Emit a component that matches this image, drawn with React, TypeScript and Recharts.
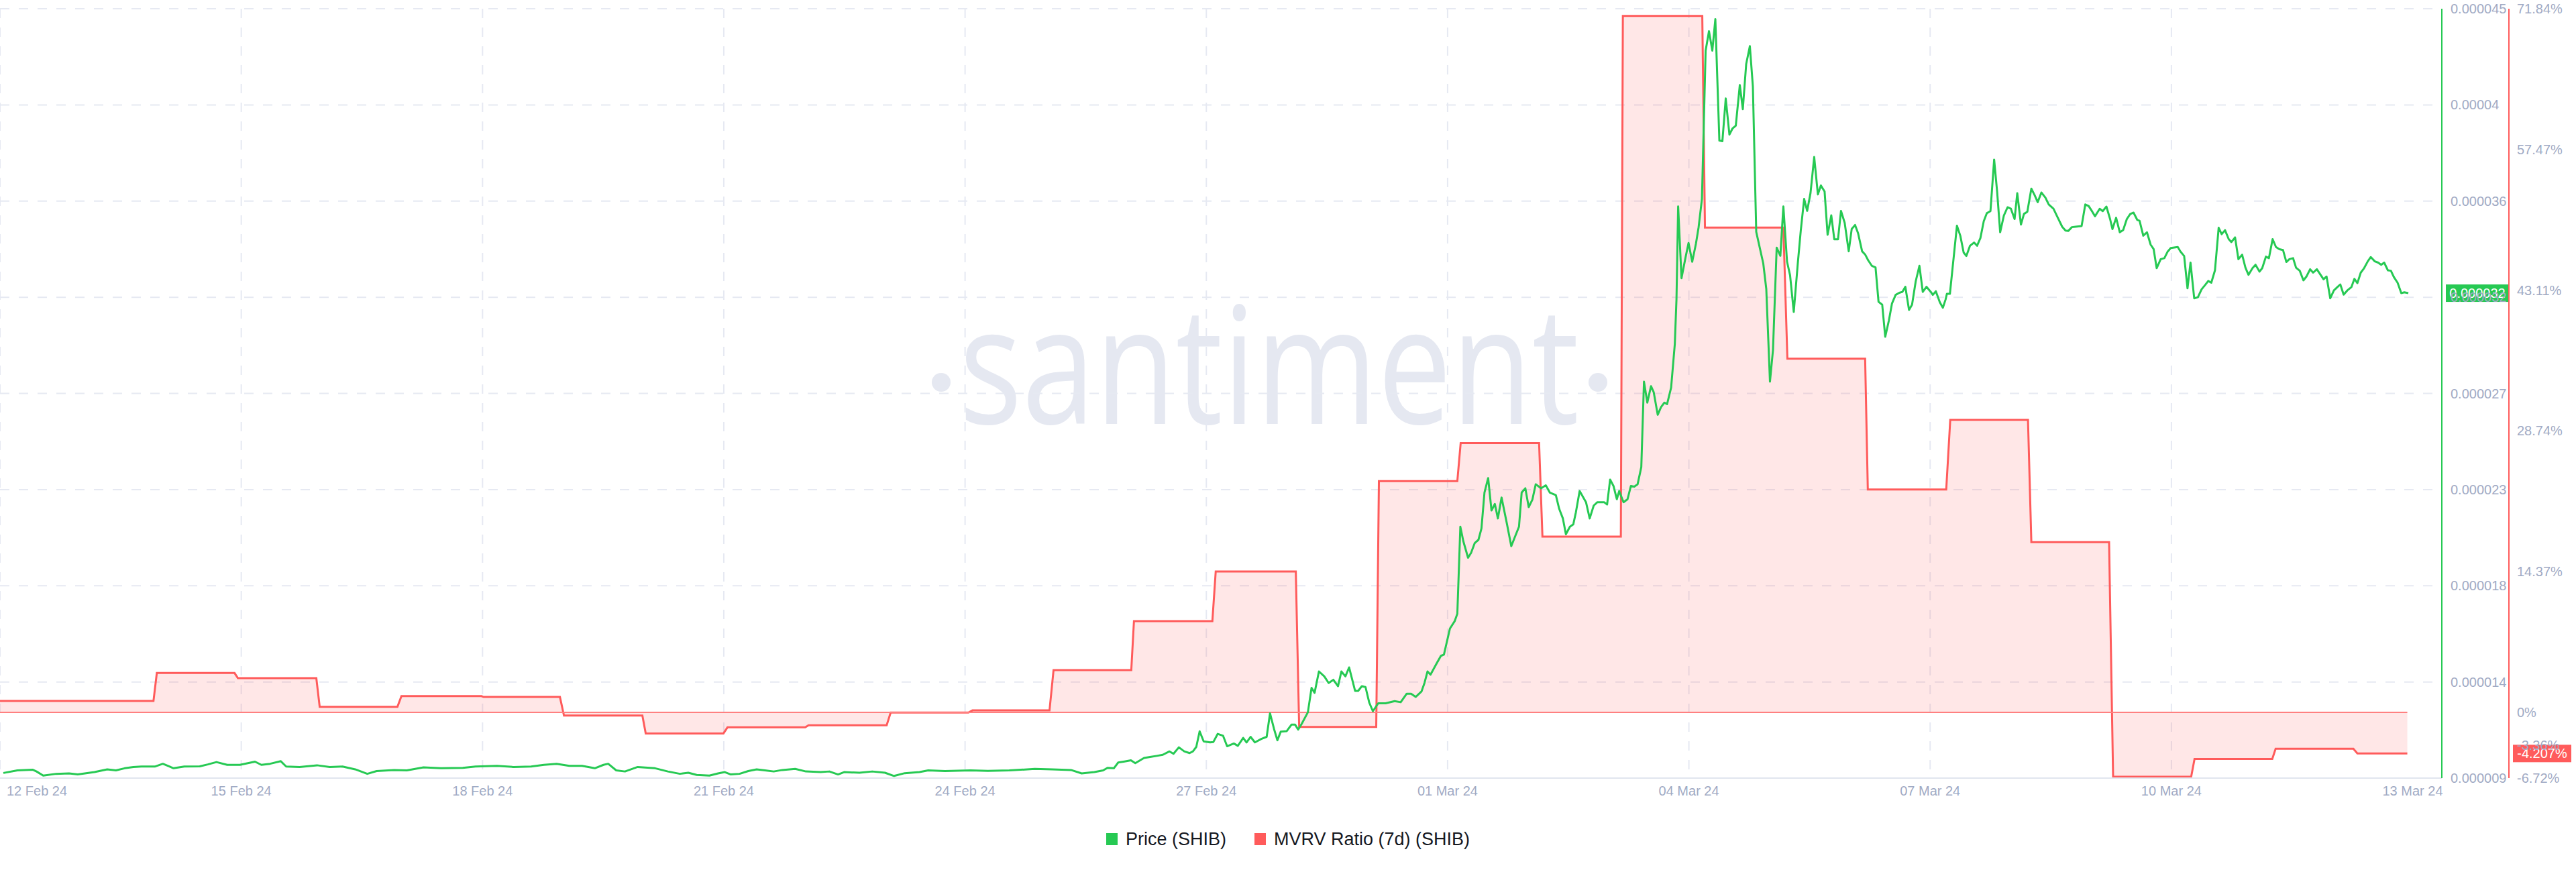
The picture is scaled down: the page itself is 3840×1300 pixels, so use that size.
import { ComposedChart, Area, Line, XAxis, YAxis, CartesianGrid, ReferenceLine, Legend } from 'recharts';

const GREEN = '#26c953';
const RED = '#ff5b5b';
const AXIS_TEXT = '#9faac4';
const GRID = '#e6e9f2';
const WATERMARK = '#e5e8f1';
const FONT = '"Liberation Sans", Arial, sans-serif';

// axis ids: recharts stacks right axes in id order, so price (y1) sits next to the plot
const PRICE_AXIS = 'y1';
const MVRV_AXIS = 'y2';

// x values are hours since 12 Feb 24 00:00
const DATE_TICKS = [0, 72, 144, 216, 288, 360, 432, 504, 576, 648, 720];
const DATE_LABELS = ['12 Feb 24', '15 Feb 24', '18 Feb 24', '21 Feb 24', '24 Feb 24', '27 Feb 24', '01 Mar 24', '04 Mar 24', '07 Mar 24', '10 Mar 24', '13 Mar 24'];
const GRID_HOURS = [0, 72, 144, 216, 288, 360, 432, 504, 576, 648];

// price in millionths of a dollar
const PRICE_TICKS = [9, 13.5, 18, 22.5, 27, 31.5, 36, 40.5, 45];
const PRICE_TICK_LABELS = ['0.000009', '0.000014', '0.000018', '0.000023', '0.000027', '0.000032', '0.000036', '0.00004', '0.000045'];

const MVRV_TICKS = [-6.72, -3.36, 0, 14.37, 28.74, 43.11, 57.47, 71.84];
const MVRV_TICK_LABELS = ['-6.72%', '-3.36%', '0%', '14.37%', '28.74%', '43.11%', '57.47%', '71.84%'];

// MVRV (7d) steps: each level holds from MVRV_FROM to MVRV_TO (hours)
const MVRV_FROM = [0, 46.8, 71.0, 95.4, 119.8, 144.3, 168.3, 192.7, 217.1, 241.3, 265.8, 290.2, 314.4, 338.4, 362.8, 387.7, 411.5, 435.9, 460.3, 484.3, 508.8, 533.4, 557.4, 582.0, 606.2, 630.6, 654.9, 679.1, 703.5];
const MVRV_TO = [45.8, 70.0, 94.4, 118.6, 143.7, 167.1, 191.7, 215.9, 240.3, 264.6, 289.0, 313.2, 337.6, 361.8, 386.7, 410.7, 434.9, 459.3, 483.7, 508.0, 532.2, 556.6, 580.8, 605.2, 629.4, 653.9, 678.1, 702.3, 718.4];
const MVRV_VALUES = [1.15, 4.01, 3.48, 0.56, 1.65, 1.56, -0.33, -2.16, -1.54, -1.32, -0.03, 0.19, 4.3, 9.31, 14.38, -1.5, 23.6, 27.5, 17.94, 71.1, 49.5, 36.1, 22.75, 29.86, 17.37, -6.59, -4.77, -3.73, -4.207];

// [hour, price]
const PRICE_POINTS: [number, number][] = [
  [1.0, 9.24], [5.2, 9.36], [9.8, 9.39], [10.9, 9.31], [12.9, 9.12], [16.8, 9.2], [20.6, 9.22], [23.2, 9.17], [28.2, 9.28], [32.0, 9.41],
  [34.6, 9.36], [37.2, 9.46], [39.8, 9.52], [42.2, 9.54], [46.2, 9.54], [48.6, 9.67], [51.8, 9.46], [55.0, 9.54], [59.6, 9.55], [62.0, 9.64],
  [64.6, 9.75], [67.8, 9.62], [71.6, 9.62], [76.1, 9.77], [78.0, 9.62], [80.6, 9.67], [83.8, 9.79], [85.4, 9.54], [89.4, 9.52], [94.6, 9.6],
  [98.4, 9.52], [102.2, 9.54], [106.0, 9.41], [109.6, 9.2], [112.4, 9.33], [117.6, 9.38], [121.4, 9.36], [126.4, 9.5], [131.6, 9.46], [138.1, 9.48],
  [141.9, 9.54], [148.3, 9.57], [153.3, 9.52], [158.5, 9.54], [162.3, 9.62], [166.1, 9.67], [169.9, 9.57], [173.7, 9.57], [177.5, 9.46], [180.1, 9.62],
  [181.5, 9.67], [183.9, 9.36], [186.5, 9.31], [190.3, 9.52], [195.5, 9.46], [199.3, 9.31],
  [202.9, 9.2], [205.4, 9.25], [207.9, 9.15], [211.7, 9.12], [214.3, 9.22], [216.3, 9.28], [218.1, 9.17], [220.7, 9.2], [223.3, 9.33], [225.8, 9.41],
  [228.3, 9.36], [230.9, 9.31], [233.5, 9.38], [237.3, 9.43], [240.5, 9.31], [244.9, 9.28], [247.5, 9.31], [250.1, 9.17], [251.9, 9.28], [256.5, 9.25],
  [260.3, 9.31], [264.1, 9.25], [266.8, 9.1], [270.0, 9.23], [274.4, 9.28], [277.0, 9.36], [282.0, 9.33], [289.6, 9.36], [294.8, 9.34], [301.2, 9.36],
  [308.8, 9.43], [314.0, 9.41], [319.6, 9.38], [322.8, 9.22], [326.6, 9.28], [329.2, 9.36], [330.5, 9.48], [332.4, 9.46], [333.7, 9.73], [335.6, 9.78],
  [337.5, 9.83], [338.8, 9.7], [341.4, 9.94], [343.2, 9.99], [345.2, 10.04], [347.0, 10.09], [349.0, 10.25], [350.2, 10.14], [351.8, 10.44], [353.4, 10.25],
  [355.0, 10.17], [356.0, 10.25], [357.0, 10.46], [358.0, 11.19], [359.2, 10.72], [361.1, 10.67], [362.1, 10.69], [363.4, 11.07], [365.0, 10.98], [366.2, 10.49],
  [368.2, 10.62], [369.4, 10.51], [371.0, 10.88], [372.0, 10.67], [373.2, 10.93], [374.5, 10.67], [376.4, 10.83], [378.0, 10.93], [379.0, 12.03], [380.2, 11.3],
  [381.2, 10.77], [382.2, 11.17], [384.0, 11.2], [385.4, 11.5], [386.5, 11.5], [387.4, 11.27], [388.5, 11.55], [390.3, 12.08], [391.4, 13.22], [392.3, 12.99],
  [393.6, 13.99], [395.2, 13.76], [396.5, 13.45], [397.9, 13.6], [399.3, 13.3], [400.3, 13.99], [401.5, 13.76], [402.6, 14.18], [404.4, 13.08], [405.3, 13.08],
  [406.4, 13.3], [407.5, 13.26], [408.6, 12.54], [409.7, 12.13], [411.3, 12.5], [413.5, 12.5], [416.2, 12.6], [418.0, 12.55], [419.8, 12.95], [421.1, 12.95],
  [422.5, 12.8], [424.2, 13.05], [425.1, 13.45], [426.0, 13.99], [426.9, 13.84], [428.7, 14.36], [430.0, 14.72], [430.9, 14.78], [432.7, 16.0], [434.1, 16.34],
  [434.9, 16.69], [435.8, 20.76], [436.7, 20.08], [438.1, 19.31], [439.0, 19.54], [440.1, 20.0], [441.2, 20.15], [442.1, 20.68], [443.0, 22.36], [444.1, 23.04],
  [445.1, 21.52], [446.1, 21.83], [447.0, 21.15], [448.1, 22.13], [449.7, 20.9], [451.0, 19.85], [452.3, 20.37], [453.3, 20.76], [454.1, 22.36], [455.2, 22.56],
  [456.2, 21.68], [457.3, 22.03], [458.3, 22.75], [459.9, 22.56], [461.3, 22.7], [462.5, 22.36], [464.3, 22.24], [465.3, 21.6], [466.4, 21.15], [467.3, 20.41],
  [468.5, 20.76], [469.5, 20.87], [470.3, 21.45], [471.4, 22.43], [473.3, 21.91], [474.4, 21.15], [475.6, 21.75], [476.7, 21.91], [478.7, 21.91], [479.6, 21.8],
  [480.5, 22.97], [481.5, 22.67], [482.5, 22.05], [483.2, 22.43], [484.5, 21.91], [485.7, 22.05], [486.7, 22.67], [487.7, 22.64], [488.7, 22.75], [489.8, 23.55],
  [490.6, 27.55], [491.6, 26.57], [492.7, 27.34], [493.5, 27.06], [494.7, 26.0], [495.7, 26.36], [496.7, 26.57], [497.5, 26.5], [498.7, 27.27], [499.8, 29.3],
  [500.3, 31.4], [500.8, 35.75], [501.8, 32.39], [503.0, 33.36], [503.9, 34.04], [505.0, 33.16], [506.1, 34.0], [506.9, 34.77], [507.9, 36.1], [509.0, 43.04],
  [510.0, 43.95], [511.0, 43.04], [511.9, 44.51], [513.1, 38.83], [514.0, 38.8], [515.0, 40.8], [516.1, 39.11], [517.0, 39.39], [518.0, 39.53], [519.2, 41.43],
  [520.1, 40.3], [521.1, 42.41], [522.2, 43.25], [523.1, 41.36], [524.1, 34.56], [526.2, 33.08], [527.1, 31.89], [528.2, 27.55], [529.1, 29.03], [530.2, 33.82],
  [531.3, 33.44], [532.2, 35.75], [533.3, 33.16], [534.2, 32.53], [535.3, 30.81], [536.5, 33.08], [537.4, 34.63], [538.4, 36.1], [539.3, 35.54], [540.3, 36.38],
  [541.4, 38.06], [542.5, 36.31], [543.4, 36.73], [544.5, 36.45], [545.4, 34.42], [546.5, 35.33], [547.4, 34.21], [548.5, 34.21], [549.4, 35.54], [550.5, 34.98],
  [551.7, 33.65], [552.6, 34.7], [553.6, 34.88], [554.5, 34.49], [555.7, 33.65], [556.6, 33.5], [557.5, 33.23], [558.6, 32.97], [559.7, 32.9], [560.6, 31.29],
  [561.7, 31.15], [562.6, 29.65], [563.7, 30.42], [564.6, 31.2], [565.7, 31.61], [566.8, 31.71], [567.7, 31.75], [568.6, 31.99], [569.7, 30.91], [570.6, 31.15],
  [571.7, 32.25], [572.8, 32.97], [573.8, 31.75], [574.9, 31.99], [576.2, 31.75], [576.8, 31.61], [577.7, 31.78], [578.9, 31.26], [579.8, 31.01], [580.6, 31.39],
  [581.0, 31.66], [581.9, 31.66], [584.0, 34.85], [585.0, 34.38], [586.0, 33.59], [586.8, 33.43], [587.9, 33.91], [589.1, 34.06], [590.0, 33.91], [591.0, 34.27],
  [592.0, 35.06], [592.9, 35.43], [594.0, 35.53], [595.1, 37.94], [596.0, 36.42], [596.9, 34.54], [598.0, 35.32], [599.1, 35.71], [600.1, 35.64], [601.2, 35.16],
  [602.0, 36.37], [603.1, 34.9], [604.0, 35.4], [605.0, 35.5], [606.2, 36.58], [607.2, 36.27], [608.1, 35.95], [609.2, 36.4], [610.4, 36.16], [611.4, 35.84],
  [612.8, 35.64], [614.1, 35.22], [615.4, 34.8], [616.4, 34.62], [617.2, 34.6], [618.3, 34.78], [619.4, 34.8], [621.2, 34.83], [622.3, 35.84], [623.3, 35.77],
  [624.4, 35.5], [625.2, 35.29], [626.6, 35.64], [627.5, 35.53], [628.6, 35.74], [629.7, 35.16], [630.4, 34.69], [631.5, 35.22], [632.6, 34.54], [633.6, 34.64],
  [634.7, 35.16], [635.7, 35.39], [636.7, 35.46], [637.8, 35.12], [638.5, 35.08], [639.6, 34.38], [640.7, 34.54], [641.8, 33.96], [642.7, 33.75], [643.6, 32.86],
  [644.8, 33.28], [645.9, 33.33], [646.9, 33.64], [647.8, 33.8], [649.9, 33.85], [650.7, 33.64], [651.8, 33.43], [652.8, 31.92], [653.7, 33.12], [654.8, 31.45],
  [655.9, 31.5], [657.0, 31.87], [658.1, 32.08], [659.0, 32.26], [659.9, 32.18], [661.0, 32.76], [662.1, 34.75], [663.0, 34.45], [664.0, 34.64], [665.1, 34.22],
  [665.9, 34.08], [667.0, 34.3], [668.0, 33.28], [669.1, 33.49], [670.1, 32.88], [671.0, 32.55], [672.2, 32.86], [673.1, 33.02], [674.3, 32.7], [675.1, 32.86],
  [676.2, 33.4], [677.1, 33.33], [678.2, 34.22], [679.2, 33.85], [680.2, 33.75], [681.3, 33.71], [682.3, 33.15], [683.2, 33.28], [684.3, 33.33], [685.2, 32.88],
  [686.3, 32.74], [687.4, 32.29], [688.3, 32.47], [689.4, 32.81], [690.3, 32.65], [691.4, 32.81], [692.5, 32.55], [693.4, 32.34], [694.3, 32.47], [695.4, 31.45],
  [696.5, 31.82], [697.5, 31.97], [698.4, 32.1], [699.4, 31.62], [700.5, 31.82], [701.7, 31.97], [702.6, 32.36], [703.5, 32.16], [704.5, 32.65], [705.5, 32.86],
  [706.6, 33.18], [707.5, 33.38], [708.7, 33.18], [709.7, 33.12], [710.6, 33.02], [711.5, 33.12], [712.6, 32.76], [713.5, 32.74], [714.4, 32.44], [715.5, 32.18],
  [716.6, 31.69], [717.5, 31.73], [718.7, 31.69],
];

const LEGEND_ITEMS = [
  { label: 'Price (SHIB)', color: GREEN },
  { label: 'MVRV Ratio (7d) (SHIB)', color: RED },
];

type Row = { h: number; price?: number; mvrv?: number };

const rows: Row[] = [
  ...PRICE_POINTS.map(([h, price]) => ({ h, price })),
  ...MVRV_VALUES.flatMap((v, i) => [{ h: MVRV_FROM[i], mvrv: v }, { h: MVRV_TO[i], mvrv: v }]),
].sort((a, b) => a.h - b.h);

const lastPrice = PRICE_POINTS[PRICE_POINTS.length - 1][1];
const lastMvrv = MVRV_VALUES[MVRV_VALUES.length - 1];
const lastHour = MVRV_TO[MVRV_TO.length - 1];

function DateTick({ x, y, payload }: any) {
  const i = DATE_TICKS.indexOf(payload.value);
  const first = i === 0;
  return (
    <text x={first ? x + 10 : x} y={y} dy="0.71em" textAnchor={first ? 'start' : 'middle'}
      fill={AXIS_TEXT} fontSize={20} fontFamily={FONT}>
      {DATE_LABELS[i]}
    </text>
  );
}

// coloured value tag sitting on the right axes
function ValueTag({ viewBox, text, color, gap, w }: any) {
  if (!viewBox) return null;
  const left = viewBox.x + viewBox.width + gap;
  return (
    <g>
      <rect x={left} y={viewBox.y - 13} width={w} height={26} fill={color} />
      <text x={left + w / 2} y={viewBox.y} dy="0.355em" textAnchor="middle" fill="#fff" fontSize={20} fontFamily={FONT}>
        {text}
      </text>
    </g>
  );
}

function ChartLegend() {
  return (
    <div style={{ display: 'flex', justifyContent: 'center', alignItems: 'center', gap: 42, height: 40, fontFamily: FONT, fontSize: 27, color: '#15181f' }}>
      {LEGEND_ITEMS.map((it) => (
        <span key={it.label} style={{ display: 'flex', alignItems: 'center', gap: 12 }}>
          <span style={{ display: 'inline-block', width: 17, height: 18, background: it.color }} />
          {it.label}
        </span>
      ))}
    </div>
  );
}

function Watermark() {
  return (
    <svg width={3840} height={1300} style={{ position: 'absolute', left: 0, top: 0 }}>
      <circle cx={1403} cy={570} r={14} fill={WATERMARK} />
      <text x={1430} y={632} fontSize={243} fontFamily='"Open Sans", sans-serif' fill={WATERMARK}
        textLength={924} lengthAdjust="spacingAndGlyphs">
        santiment
      </text>
      <circle cx={2382} cy={570} r={14} fill={WATERMARK} />
    </svg>
  );
}

export default function App() {
  return (
    <div style={{ position: 'absolute', left: 0, top: 0, width: 3840, height: 1300, background: '#fff' }}>
      <Watermark />
      <div style={{ position: 'absolute', left: 0, top: 0 }}>
        <ComposedChart width={3840} height={1300} data={rows} margin={{ top: 13, right: 0, bottom: 29, left: 0 }}>
          <CartesianGrid yAxisId={PRICE_AXIS} stroke={GRID} strokeWidth={2} strokeDasharray="14 14" verticalValues={GRID_HOURS} />
          <XAxis
            dataKey="h"
            type="number"
            domain={[0, 728.7]}
            ticks={DATE_TICKS}
            interval={0}
            height={71}
            tickMargin={6}
            tickLine={false}
            axisLine={{ stroke: '#e1e5ee', strokeWidth: 2 }}
            tick={<DateTick />}
          />
          <YAxis
            yAxisId={PRICE_AXIS}
            orientation="right"
            type="number"
            domain={[9, 45]}
            ticks={PRICE_TICKS}
            interval={0}
            width={100}
            tickLine={false}
            tickMargin={7}
            axisLine={{ stroke: GREEN, strokeWidth: 2 }}
            tick={{ fill: AXIS_TEXT, fontSize: 20, fontFamily: FONT, textAnchor: 'start' }}
            tickFormatter={(v: number) => PRICE_TICK_LABELS[PRICE_TICKS.indexOf(v)]}
          />
          <YAxis
            yAxisId={MVRV_AXIS}
            orientation="right"
            type="number"
            domain={[-6.72, 71.84]}
            ticks={MVRV_TICKS}
            interval={0}
            width={100}
            tickLine={false}
            tickMargin={6}
            axisLine={{ stroke: RED, strokeWidth: 2 }}
            tick={{ fill: AXIS_TEXT, fontSize: 20, fontFamily: FONT, textAnchor: 'start' }}
            tickFormatter={(v: number) => MVRV_TICK_LABELS[MVRV_TICKS.indexOf(v)]}
          />
          <Area
            yAxisId={MVRV_AXIS}
            dataKey="mvrv"
            type="linear"
            stroke={RED}
            strokeWidth={3}
            fill={RED}
            fillOpacity={0.15}
            baseValue={0}
            connectNulls
            dot={false}
            activeDot={false}
            isAnimationActive={false}
          />
          <ReferenceLine
            yAxisId={MVRV_AXIS}
            segment={[{ x: 0, y: 0 }, { x: lastHour, y: 0 }]}
            stroke="#ff8080"
            strokeWidth={2}
          />
          <Line
            yAxisId={PRICE_AXIS}
            dataKey="price"
            type="linear"
            stroke={GREEN}
            strokeWidth={3}
            strokeLinejoin="round"
            connectNulls
            dot={false}
            activeDot={false}
            isAnimationActive={false}
          />
          <ReferenceLine
            yAxisId={PRICE_AXIS}
            y={lastPrice}
            stroke="none"
            label={<ValueTag text={(lastPrice / 1e6).toFixed(6)} color={GREEN} gap={6} w={94} />}
          />
          <ReferenceLine
            yAxisId={MVRV_AXIS}
            y={lastMvrv}
            stroke="none"
            label={<ValueTag text={`${lastMvrv.toFixed(3)}%`} color={RED} gap={106} w={87} />}
          />
          <Legend verticalAlign="bottom" height={40} content={() => <ChartLegend />} />
        </ComposedChart>
      </div>
    </div>
  );
}
